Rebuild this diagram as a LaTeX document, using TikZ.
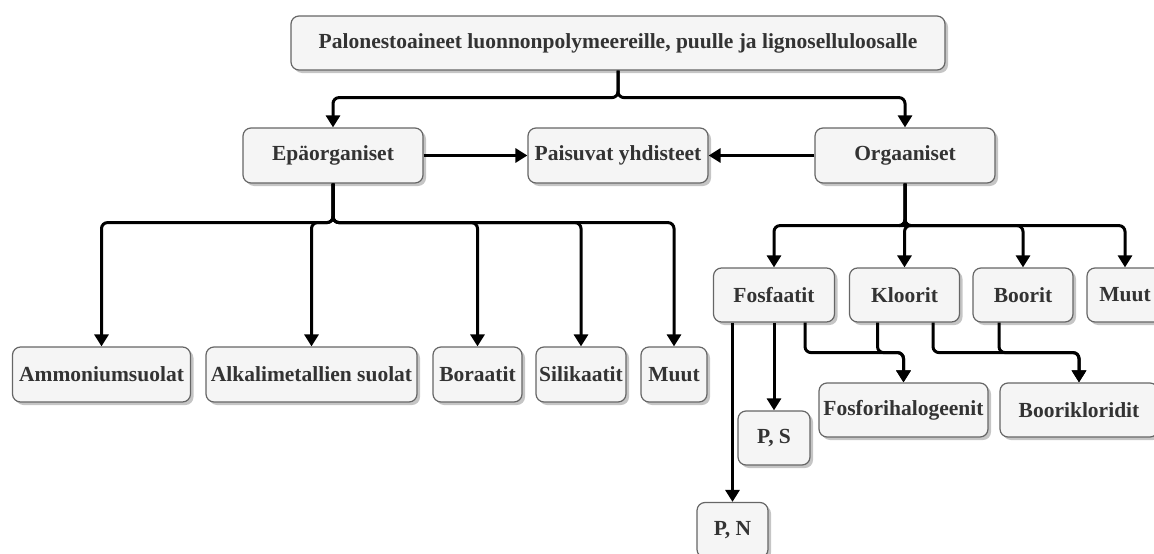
\documentclass[tikz,border=0pt]{standalone}
\usepackage{fontspec}
\setmainfont{Liberation Serif}
\definecolor{BoxFill}{HTML}{F5F5F5}
\definecolor{BoxLine}{HTML}{666666}
\definecolor{BoxText}{HTML}{333333}
\usetikzlibrary{
    arrows.meta,
    shadows,
}

\begin{document}
\begin{tikzpicture}[x=1pt, y=-1pt,
    box/.style={draw=BoxLine, fill=BoxFill, line width=1.2pt, rounded corners=8pt,
        minimum height=55pt, inner sep=2pt, text=BoxText,
        font=\fontsize{21.5}{24}\selectfont\bfseries,
        drop shadow={shadow xshift=3pt, shadow yshift=-3pt, fill=black!45, opacity=0.5}},
    conn/.style={line width=3pt, rounded corners=6pt, -{Triangle[length=12pt,width=14pt]}},
]
    \useasboundingbox (0,0) rectangle (1154,554);
    % top levels
    \node[box, minimum width=654pt, minimum height=54pt] (root) at (618,43) {Palonestoaineet luonnonpolymeereille, puulle ja lignoselluloosalle};
    \node[box, minimum width=180pt] (epa) at (333,155.5) {Epäorganiset};
    \node[box, minimum width=180pt] (pais) at (618,155.5) {Paisuvat yhdisteet};
    \node[box, minimum width=180pt] (org) at (905,155.5) {Orgaaniset};
    % inorganic branch
    \node[box, minimum width=178pt] (amm) at (101.5,374.5) {Ammoniumsuolat};
    \node[box, minimum width=211pt] (alk) at (311.5,374.5) {Alkalimetallien suolat};
    \node[box, minimum width=89pt] (bor) at (477.5,374.5) {Boraatit};
    \node[box, minimum width=90pt] (sil) at (581,374.5) {Silikaatit};
    \node[box, minimum width=66pt] (muutA) at (674,374.5) {Muut};
    % organic branch
    \node[box, minimum width=121pt, minimum height=54pt] (fos) at (774,295) {Fosfaatit};
    \node[box, minimum width=110pt, minimum height=54pt] (klo) at (904.5,295) {Kloorit};
    \node[box, minimum width=100pt, minimum height=54pt] (boo) at (1023,295) {Boorit};
    \node[box, minimum width=76pt, minimum height=54pt] (muutB) at (1125,295) {Muut};
    \node[box, minimum width=169pt, minimum height=54pt] (fh) at (903.5,410) {Fosforihalogeenit};
    \node[box, minimum width=158pt, minimum height=54pt] (bk) at (1079,410) {Boorikloridit};
    \node[box, minimum width=72pt, minimum height=54pt] (ps) at (774,438) {P, S};
    \node[box, minimum width=71pt] (pn) at (732.5,530) {P, N};

    \draw[conn] (root.south) -- ++(0,27) -| (epa.north);
    \draw[conn] (root.south) -- ++(0,27) -| (org.north);
    \draw[conn] (epa.east) -- (pais.west);
    \draw[conn] (org.west) -- (pais.east);

    \foreach \n in {amm,alk,bor,sil,muutA}
        \draw[conn] (epa.south) -- ++(0,39) -| (\n.north);
    \foreach \n in {fos,klo,boo,muutB}
        \draw[conn] (org.south) -- ++(0,42) -| (\n.north);

    \draw[conn] (fos.south -| pn.north) -- (pn.north);
    \draw[conn] (fos.south) -- (ps.north);
    \draw[conn] ([xshift=31pt]fos.south) -- ++(0,30) -| (fh.north);
    \draw[conn] ([xshift=-27pt]klo.south) -- ++(0,30) -| (fh.north);
    \draw[conn] ([xshift=28.5pt]klo.south) -- ++(0,30) -| (bk.north);
    \draw[conn] ([xshift=-24pt]boo.south) -- ++(0,30) -| (bk.north);
\end{tikzpicture}
\end{document}
